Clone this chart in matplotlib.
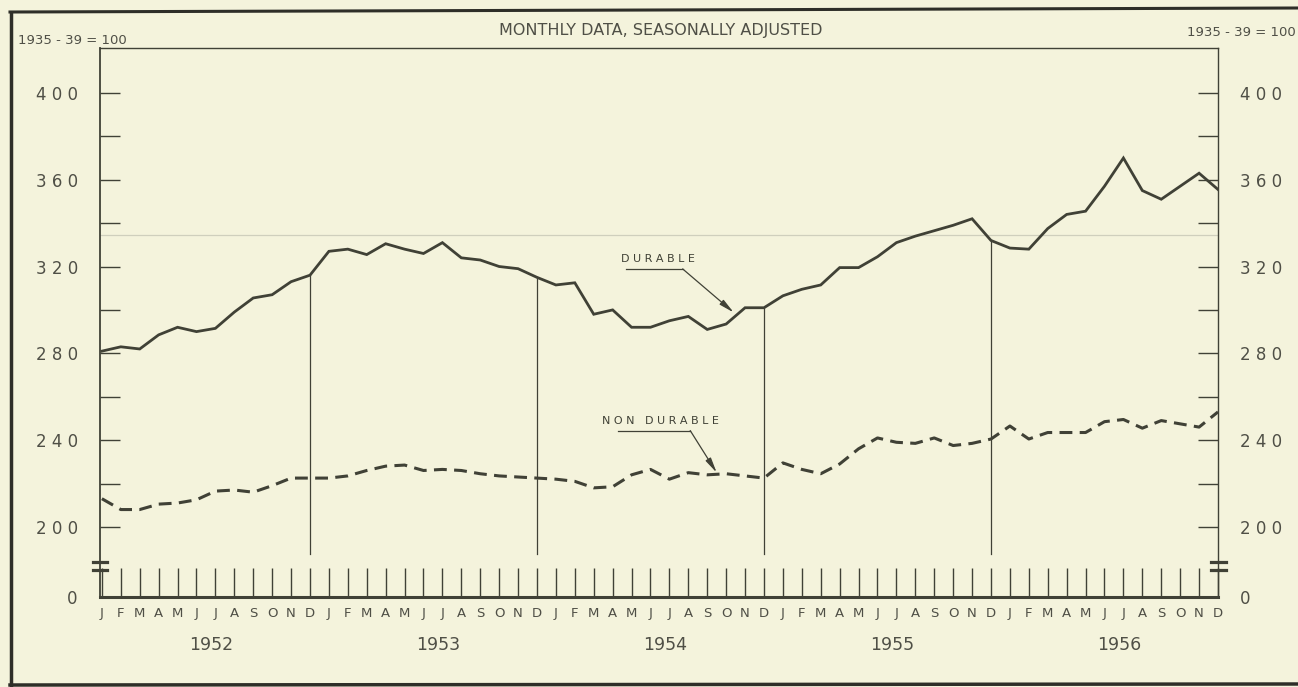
import matplotlib
matplotlib.use("Agg")
import matplotlib.pyplot as plt
from matplotlib.lines import Line2D
from matplotlib.transforms import blended_transform_factory
import numpy as np

# ---- data (index 1935-39 = 100, monthly, seasonally adjusted) ----
years = [1952, 1953, 1954, 1955, 1956]
month_letters = ["J", "F", "M", "A", "M", "J", "J", "A", "S", "O", "N", "D"]

durable = [281, 283, 282, 288.5, 292, 290, 291.5, 299, 305.5, 307, 313, 316,
           327, 328, 325.5, 330.5, 328, 326, 331, 324, 323, 320, 319, 315,
           311.5, 312.5, 298, 300, 292, 292, 295, 297, 291, 293.5, 301, 301,
           306.5, 309.5, 311.5, 319.5, 319.5, 324.5, 331, 334, 336.5, 339, 342, 332,
           328.5, 328, 337.5, 344, 345.5, 357, 370, 355, 351, 357, 363, 355.5]

non_durable = [213, 208, 208, 210.5, 211, 212.5, 216.5, 217, 216, 219, 222.5, 222.5,
               222.5, 223.5, 226, 228, 228.5, 226, 226.5, 226, 224.5, 223.5, 223, 222.5,
               222, 221, 218, 218.5, 224, 226.5, 222, 225, 224, 224.5, 223.5, 222.5,
               229.5, 226.5, 224.5, 229, 236, 241, 239, 238.5, 241, 237.5, 238.5, 240.5,
               246.5, 240.5, 243.5, 243.5, 243.5, 248.5, 249.5, 245.5, 249, 247.5, 246, 253]

y_major = [200, 240, 280, 320, 360, 400]
y_minor = [220, 260, 300, 340, 380]
december_marks = [11, 23, 35, 47]

# ---- style ----
BG = "#f4f3dc"
INK = "#404136"
TXT = "#4f4f46"
W, H = 1298, 687
Y_LO, Y_HI = 167.7, 420.7

fig = plt.figure(figsize=(W / 100, H / 100), dpi=100, facecolor=BG)
ax = fig.add_axes([100 / W, 1 - 597 / H, 1118 / W, 549 / H])
ax.set_facecolor(BG)

n = len(durable)
x = np.arange(n)

ax.plot(x, durable, color=INK, lw=2.0, solid_joinstyle="miter", zorder=4)
ax.plot(x, non_durable, color=INK, lw=2.2, linestyle=(0, (4.2, 2.4)), zorder=4)

# faint paste-up line
ax.axhline(334.5, color="#cfcfbd", lw=0.9, zorder=1)

# December reference lines from near base up to durable curve
for i in december_marks:
    ax.plot([i, i], [187.3, durable[i]], color=INK, lw=0.9, zorder=3)

ax.set_xlim(-0.1, n - 1)
ax.set_ylim(Y_LO, Y_HI)

# x ticks: month marks
ax.set_xticks(x)
ax.set_xticklabels([month_letters[i % 12] for i in x], fontsize=9.5, color=TXT)
ax.tick_params(axis="x", direction="in", length=21, width=1.0, color=INK, pad=7)

# y ticks
yt = [Y_LO] + y_major
ax.set_yticks(yt)
ax.set_yticklabels(["0"] + [" ".join(str(v)) for v in y_major], fontsize=12, color=TXT)
ax.set_yticks(y_minor, minor=True)
ax.tick_params(axis="y", which="both", direction="in", length=14.5, width=1.0, color=INK,
               pad=16, left=True, right=True, labelleft=True, labelright=True)
for t in ax.yaxis.get_major_ticks()[:1]:
    t.tick1line.set_visible(False)
    t.tick2line.set_visible(False)

for s in ["left", "top", "right"]:
    ax.spines[s].set_color(INK)
    ax.spines[s].set_linewidth(1.0)
ax.spines["left"].set_linewidth(1.3)
ax.spines["bottom"].set_color(INK)
ax.spines["bottom"].set_linewidth(2.2)

# axis break marks
bt = blended_transform_factory(ax.transAxes, ax.transData)
for yy in (180.2, 183.8):
    ax.plot([-0.0065, 0.0065], [yy, yy], color=INK, lw=2.3, transform=bt, clip_on=False, zorder=5)
    ax.plot([0.9935, 1.0075], [yy, yy], color=INK, lw=2.3, transform=bt, clip_on=False, zorder=5)

# year labels
bx = blended_transform_factory(ax.transData, ax.transAxes)
for k, yr in enumerate(years):
    ax.text(12 * k + 5.8, -0.087, str(yr), transform=bx, ha="center", va="center",
            fontsize=12.5, color=TXT)

# annotations
ax.text(29.4, 323.5, "D U R A B L E", ha="center", va="center", fontsize=8, color=INK)
ax.plot([27.7, 30.7], [318.9, 318.9], color=INK, lw=0.9)
ax.annotate("", xy=(33.4, 298.8), xytext=(30.7, 318.9),
            arrowprops=dict(arrowstyle="-|>,head_length=0.9,head_width=0.18",
                            color=INK, lw=0.9, shrinkA=0, shrinkB=0))

ax.text(29.5, 248.8, "N O N   D U R A B L E", ha="center", va="center", fontsize=8, color=INK)
ax.plot([27.3, 31.1], [244.4, 244.4], color=INK, lw=0.9)
ax.annotate("", xy=(32.5, 225.0), xytext=(31.1, 244.4),
            arrowprops=dict(arrowstyle="-|>,head_length=0.9,head_width=0.18",
                            color=INK, lw=0.9, shrinkA=0, shrinkB=0))

# header texts
fig.text(661 / W, 1 - 30 / H, "MONTHLY DATA, SEASONALLY ADJUSTED", ha="center", va="center",
         fontsize=11.5, color=TXT)
fig.text(18 / W, 1 - 40 / H, "1935 - 39 = 100", ha="left", va="center", fontsize=9.5, color=TXT)
fig.text(1296 / W, 1 - 32 / H, "1935 - 39 = 100", ha="right", va="center", fontsize=9.5, color=TXT)

# outer frame
fig.add_artist(Line2D([11 / W, 11 / W], [1 - 13 / H, 1 - 686 / H], transform=fig.transFigure,
                      color="#2e2e28", lw=2.5))
fig.add_artist(Line2D([10 / W, 1.0], [1 - 12 / H, 1 - 8 / H], transform=fig.transFigure,
                      color="#2e2e28", lw=2.2))
fig.add_artist(Line2D([10 / W, 1.0], [1 - 685 / H, 1 - 684 / H], transform=fig.transFigure,
                      color="#2e2e28", lw=2.5))

fig.savefig("out.png", dpi=100, facecolor=BG)
